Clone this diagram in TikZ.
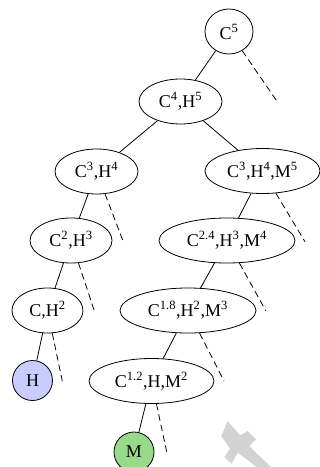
\documentclass[tikz,border=0pt]{standalone}
\usepackage{fontspec}
\setmainfont{Liberation Serif}
\usetikzlibrary{shapes.geometric}
\newcommand{\pw}[1]{\textsuperscript{#1}}

\begin{document}
\begin{tikzpicture}[x=0.75pt,y=0.75pt,yscale=-1,
  state/.style={draw,ellipse,line width=0.6pt,inner sep=0.75pt,minimum height=33.75pt,font=\fontsize{13.5}{16}\selectfont},
  leaf/.style={draw,circle,line width=0.6pt,inner sep=0.75pt,minimum size=30pt,font=\fontsize{13.5}{16}\selectfont},
  edge/.style={line width=0.6pt},
  cut/.style={line width=0.6pt,dash pattern=on 5pt off 3pt}]
\useasboundingbox (0,0) rectangle (320,467);

%Shape: Cross [id:gray mark]
\fill [color={rgb, 255:red, 211; green, 211; blue, 211 }] (227.7,421) -- (240,435.3) -- (247.7,431) -- (256,439.3) -- (249.3,446.3) -- (271,467) -- (256.7,467) -- (237.7,452.7) -- (231.7,463.7) -- (224.3,457) -- (230,448.7) -- (221.3,436) -- cycle ;

% Ellipse Nodes
\node [state,minimum width=36pt] (c5) at (229,31.5) {C\pw{5}};
\node [state,minimum width=62.25pt] (c4h5) at (180.5,101.5) {C\pw{4},H\pw{5}};
\node [state,minimum width=62.25pt] (c3h4) at (96.5,171.5) {C\pw{3},H\pw{4}};
\node [state,minimum width=86.25pt] (c3h4m5) at (262.5,171) {C\pw{3},H\pw{4},M\pw{5}};
\node [state,minimum width=61.5pt] (c2h3) at (71,240.5) {C\pw{2},H\pw{3}};
\node [state,minimum width=102pt] (c24h3m4) at (227,240.5) {C\pw{2.4},H\pw{3},M\pw{4}};
\node [state,minimum width=53.25pt] (ch2) at (47.5,310.5) {C,H\pw{2}};
\node [state,minimum width=102pt] (c18h2m3) at (188,310.5) {C\pw{1.8},H\pw{2},M\pw{3}};
\node [state,minimum width=93.75pt] (c12hm2) at (151.5,381) {C\pw{1.2},H,M\pw{2}};
% Circle Nodes
\node [leaf,fill={rgb, 255:red, 200; green, 204; blue, 255 }] (h) at (32.5,380.5) {H};
\node [leaf,fill={rgb, 255:red, 153; green, 217; blue, 140 }] (m) at (134,452) {M};

% Ends of cut branches
\coordinate (c5x) at (277.3,101.7);
\coordinate (c3h4x) at (123.3,241.7);
\coordinate (c3h4m5x) at (305,241.7);
\coordinate (c2h3x) at (94.3,310.7);
\coordinate (c24h3m4x) at (265.7,310.7);
\coordinate (ch2x) at (62.3,381);
\coordinate (c18h2m3x) at (224,381);
\coordinate (c12hm2x) at (166.7,451.7);

%Straight Lines
\draw [edge] (c5) -- (c4h5) ;
\draw [edge] (c4h5) -- (c3h4) ;
\draw [edge] (c4h5) -- (c3h4m5) ;
\draw [edge] (c3h4) -- (c2h3) ;
\draw [edge] (c3h4m5) -- (c24h3m4) ;
\draw [edge] (c2h3) -- (ch2) ;
\draw [edge] (c24h3m4) -- (c18h2m3) ;
\draw [edge] (ch2) -- (h) ;
\draw [edge] (c18h2m3) -- (c12hm2) ;
\draw [edge] (c12hm2) -- (m) ;
%Dashed Lines
\draw [cut] (c5) -- (c5x) ;
\draw [cut] (c3h4) -- (c3h4x) ;
\draw [cut] (c3h4m5) -- (c3h4m5x) ;
\draw [cut] (c2h3) -- (c2h3x) ;
\draw [cut] (c24h3m4) -- (c24h3m4x) ;
\draw [cut] (ch2) -- (ch2x) ;
\draw [cut] (c18h2m3) -- (c18h2m3x) ;
\draw [cut] (c12hm2) -- (c12hm2x) ;

\end{tikzpicture}
\end{document}
